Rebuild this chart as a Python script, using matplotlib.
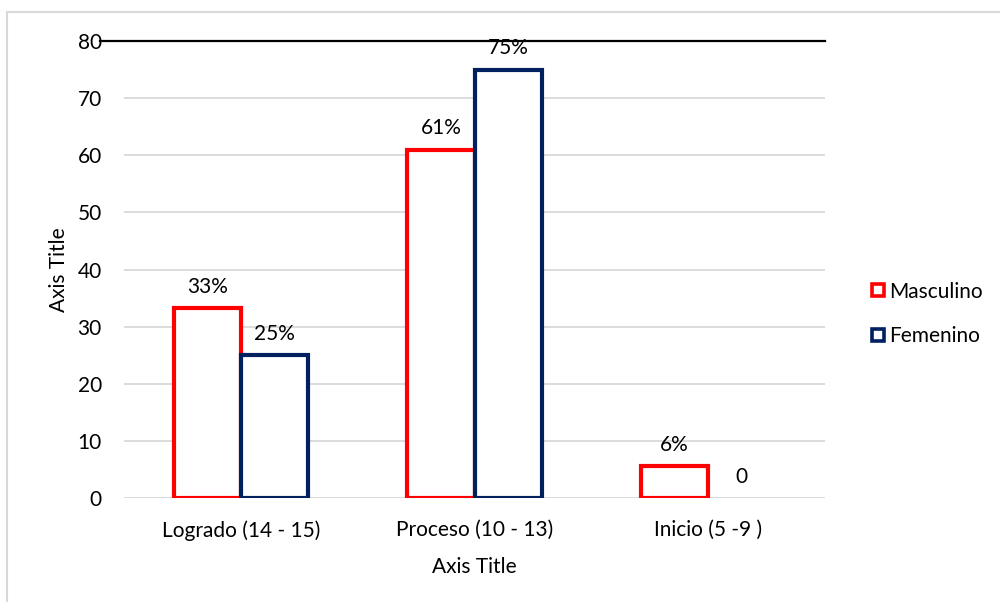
import matplotlib
matplotlib.use("Agg")
import matplotlib.pyplot as plt
import numpy as np
from matplotlib.patches import Rectangle
from matplotlib.lines import Line2D

categories = ["Logrado (14 - 15)", "Proceso (10 - 13)", "Inicio (5 -9 )"]
masculino = [33.3, 61, 5.6]
femenino = [25, 75, 0]
masc_labels = ["33%", "61%", "6%"]
fem_labels = ["25%", "75%", "0"]
series_names = ["Masculino", "Femenino"]
yticks = [0, 10, 20, 30, 40, 50, 60, 70, 80]

plt.rcParams['font.family'] = ['Lato', 'DejaVu Sans']
RED = "#FF0000"
NAVY = "#002060"
FS = 15

fig = plt.figure(figsize=(10, 6.02), dpi=100)
ax = fig.add_axes([0.124, 1 - 498/602, 0.701, (498-41)/602])

x = np.arange(len(categories))
w = 0.287
lw = 3.0
b1 = ax.bar(x - w/2, masculino, w, facecolor="white", edgecolor=RED, linewidth=lw, zorder=3)
b2 = ax.bar(x + w/2, femenino, w, facecolor="white", edgecolor=NAVY, linewidth=lw, zorder=3)
for bars, vals in ((b1, masculino), (b2, femenino)):
    for r, v in zip(bars, vals):
        if v == 0:
            r.set_linewidth(0)

for i in range(len(categories)):
    ax.annotate(masc_labels[i], (x[i] - w/2, masculino[i]), xytext=(0, 8),
                textcoords="offset points", ha="center", va="bottom", fontsize=FS, color="#000000")
    ax.annotate(fem_labels[i], (x[i] + w/2, femenino[i]), xytext=(0, 8),
                textcoords="offset points", ha="center", va="bottom", fontsize=FS, color="#000000")

ax.set_xlim(-0.5, 2.5)
ax.set_ylim(0, 80)
ax.set_yticks(yticks)
ax.set_xticks(x)
ax.set_xticklabels(categories)
ax.tick_params(axis="both", length=0, labelsize=FS, colors="#000000")
ax.tick_params(axis="y", pad=16)
ax.tick_params(axis="x", pad=16)
for s in ax.spines.values():
    s.set_visible(False)
ax.yaxis.grid(True, color="#D9D9D9", linewidth=1.3, zorder=0)
ax.set_axisbelow(True)
ax.axhline(80, xmin=-0.034, xmax=1.0, color="black", linewidth=1.6, clip_on=False, zorder=4)

ax.set_ylabel("Axis Title", fontsize=FS, labelpad=6)
ax.set_xlabel("Axis Title", fontsize=FS, labelpad=12)

handles = [Line2D([], [], marker="s", linestyle="none", markersize=9, markerfacecolor="white",
                  markeredgecolor=RED, markeredgewidth=2.6),
           Line2D([], [], marker="s", linestyle="none", markersize=9, markerfacecolor="white",
                  markeredgecolor=NAVY, markeredgewidth=2.6)]
fig.legend(handles, series_names, loc="center left", bbox_to_anchor=(0.858, 1 - 314/602),
           frameon=False, fontsize=FS, handletextpad=0.1, labelspacing=1.2, handlelength=0.9,
           borderpad=0)

fig.patches.append(Rectangle((7/1000, -0.1), 1.2, 1 - 12/602 + 0.1, transform=fig.transFigure,
                             fill=False, edgecolor="#D9D9D9", linewidth=1.5))

fig.savefig("out.png", dpi=100)
